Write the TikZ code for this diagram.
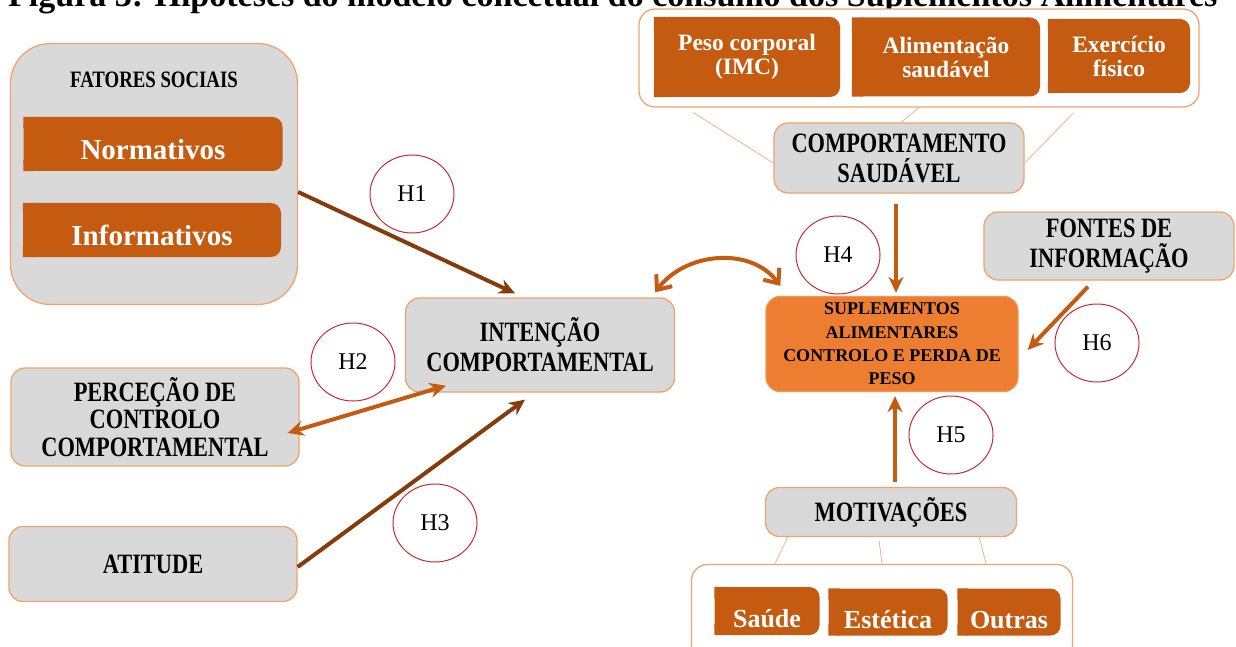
\documentclass[tikz,border=0pt]{standalone}
\usepackage{fontspec}
\setmainfont{Liberation Serif}
\newfontfamily\condfont[FakeStretch=0.8]{Liberation Serif}
\usetikzlibrary{arrows.meta,shapes.geometric,calc}

\definecolor{boxgray}{HTML}{D9D9D9}
\definecolor{boxline}{HTML}{F2A36B}
\definecolor{taborange}{HTML}{C55A11}
\definecolor{suplorange}{HTML}{ED7D31}
\definecolor{arrowbrown}{HTML}{843C0C}
\definecolor{arroworange}{HTML}{C55A11}
\definecolor{hypred}{HTML}{C8282E}
\definecolor{linkorange}{HTML}{F4B183}

\begin{document}
\begin{tikzpicture}[x=1pt,y=-1pt,>={Stealth[length=16pt,width=15pt]},line join=round]
  \tikzstyle{graybox}=[draw=boxline,fill=boxgray,line width=1.3pt,rounded corners=14pt,align=center,inner sep=0pt,font=\condfont\bfseries\fontsize{28}{30}\selectfont]
  \tikzstyle{tabbox}=[fill=taborange,rounded corners=10pt,text=white,align=center,inner sep=0pt,font=\bfseries\fontsize{23.5}{24}\selectfont]
  \tikzstyle{lowtab}=[tabbox,text height=31pt,text depth=0pt]
  \tikzstyle{groupbox}=[draw=boxline,fill=white,line width=1.3pt,rounded corners=16pt]
  \tikzstyle{hypo}=[ellipse,draw=hypred,line width=1pt,inner sep=0pt,minimum width=84pt,minimum height=78pt,font=\fontsize{24}{24}\selectfont]
  \tikzstyle{thinlink}=[draw=linkorange,line width=0.8pt]
  \tikzstyle{brownarrow}=[draw=arrowbrown,line width=4pt,->]
  \tikzstyle{orangearrow}=[draw=arroworange,line width=4pt,->]
  \useasboundingbox (0,0) rectangle (1236,647);

  \node[anchor=base west,inner sep=0pt,font=\bfseries\fontsize{34}{34}\selectfont] (title) at (8,7)
    {Figura 3: Hipóteses do modelo concetual do consumo dos Suplementos Alimentares};

  % left column
  \node[graybox,rounded corners=40pt,minimum width=287pt,minimum height=261pt] (fat) at (154,174) {};
  \node[font=\condfont\bfseries\fontsize{23.5}{23.5}\selectfont] (fattxt) at (154,80) {FATORES SOCIAIS};
  \node[lowtab,minimum width=259pt,minimum height=54pt,font=\bfseries\fontsize{29}{29}\selectfont] (norm) at (153,144) {Normativos};
  \node[lowtab,minimum width=258pt,minimum height=54pt,font=\bfseries\fontsize{29}{29}\selectfont] (info) at (152,230) {Informativos};
  \node[graybox,minimum width=288pt,minimum height=98pt,font=\condfont\bfseries\fontsize{28}{27.5}\selectfont] (perc) at (155,417) {PERCEÇÃO DE\\CONTROLO\\COMPORTAMENTAL};
  \node[graybox,minimum width=288pt,minimum height=75pt] (att) at (153,564) {ATITUDE};
  \node[graybox,minimum width=269pt,minimum height=94pt] (int) at (540,345) {INTENÇÃO\\COMPORTAMENTAL};

  % healthy behaviour group
  \node[groupbox,minimum width=560pt,minimum height=98pt] (top) at (919,58) {};
  \node[tabbox,minimum width=186pt,minimum height=80pt] (peso) at (747,57) {Peso corporal\\(IMC)};
  \node[tabbox,minimum width=188pt,minimum height=79pt] (alim) at (946,57) {Alimentação\\saudável};
  \node[tabbox,minimum width=142pt,minimum height=74pt] (exer) at (1119,56) {Exercício\\físico};
  \node[graybox,minimum width=250pt,minimum height=70pt] (comp) at (899,158) {COMPORTAMENTO\\SAUDÁVEL};
  \node[graybox,minimum width=250pt,minimum height=68pt] (fontes) at (1109,246) {FONTES DE\\INFORMAÇÃO};
  \node[graybox,draw=suplorange!80!white,fill=suplorange,minimum width=252pt,minimum height=95pt,font=\bfseries\fontsize{18}{23.3}\selectfont] (supl) at (892,344) {SUPLEMENTOS\\ALIMENTARES\\CONTROLO E PERDA DE\\PESO};

  % motivations group
  \node[graybox,minimum width=251pt,minimum height=49pt] (motiv) at (891,512) {MOTIVAÇÕES};
  \node[groupbox,minimum width=381pt,minimum height=97pt] (bot) at (882,613) {};
  \node[lowtab,text height=32pt,minimum width=105pt,minimum height=48pt,font=\bfseries\fontsize{26}{26}\selectfont] (saude) at (767,611) {Saúde};
  \node[lowtab,text height=32pt,minimum width=119pt,minimum height=47pt,font=\bfseries\fontsize{26}{26}\selectfont] (este) at (888,612) {Estética};
  \node[lowtab,text height=32pt,minimum width=103pt,minimum height=47pt,font=\bfseries\fontsize{26}{26}\selectfont] (outr) at (1009,612) {Outras};

  % sharp left corners of the tabs
  \foreach \t in {norm,info,peso,alim,exer,saude,este,outr}
    \fill[taborange] (\t.north west) rectangle ($(\t.north west)+(11,11)$)
                     (\t.south west) rectangle ($(\t.south west)+(11,-11)$);

  % hypotheses
  \node[hypo] (h1) at (412,194) {H1};
  \node[hypo] (h2) at (353,362) {H2};
  \node[hypo] (h3) at (435,523) {H3};
  \node[hypo] (h4) at (838,255) {H4};
  \node[hypo] (h5) at (951,435) {H5};
  \node[hypo] (h6) at (1097,343) {H6};

  % thin links
  \path ($(top.south west)+(55,5)$) edge[thinlink] ($(comp.west)+(0,5)$)
        (top.south) edge[thinlink] ($(comp.north)+(2,0)$)
        ($(top.south east)+(-126,5)$) edge[thinlink] ($(comp.east)+(0,5)$)
        ($(motiv.south west)+(23,0)$) edge[thinlink] ($(bot.north west)+(84,0)$)
        ($(motiv.south)+(-12,3)$) edge[thinlink] (bot.north)
        ($(motiv.south east)+(-38,0)$) edge[thinlink] ($(bot.north east)+(-87,0)$);

  % hypothesis arrows
  \path ($(fat.east)+(0,18)$) edge[brownarrow] ($(int.north)+(-25,-4)$)
        ($(att.east)+(0,3)$) edge[brownarrow] ($(int.south)+(-15,7)$)
        ($(perc.east)+(-12,16)$) edge[orangearrow,<->] ($(int.south west)+(41,-7)$)
        ($(comp.south)+(-3,10)$) edge[orangearrow] ($(supl.north)+(4,-3)$)
        ($(motiv.north)+(4,-5)$) edge[orangearrow] ($(supl.south)+(3,4)$)
        ($(fontes.south)+(-21,6)$) edge[orangearrow] ($(supl.east)+(9,6)$);
  \draw[draw=arroworange,line width=4pt,{Straight Barb[length=12pt,width=20pt,line width=4pt]}-{Straight Barb[length=12pt,width=20pt,line width=4pt]}]
    ($(int.north east)+(-20,-5)$) .. controls +(30,-40) and +(-30,-40) .. ($(supl.north west)+(15,-10)$);
\end{tikzpicture}
\end{document}
